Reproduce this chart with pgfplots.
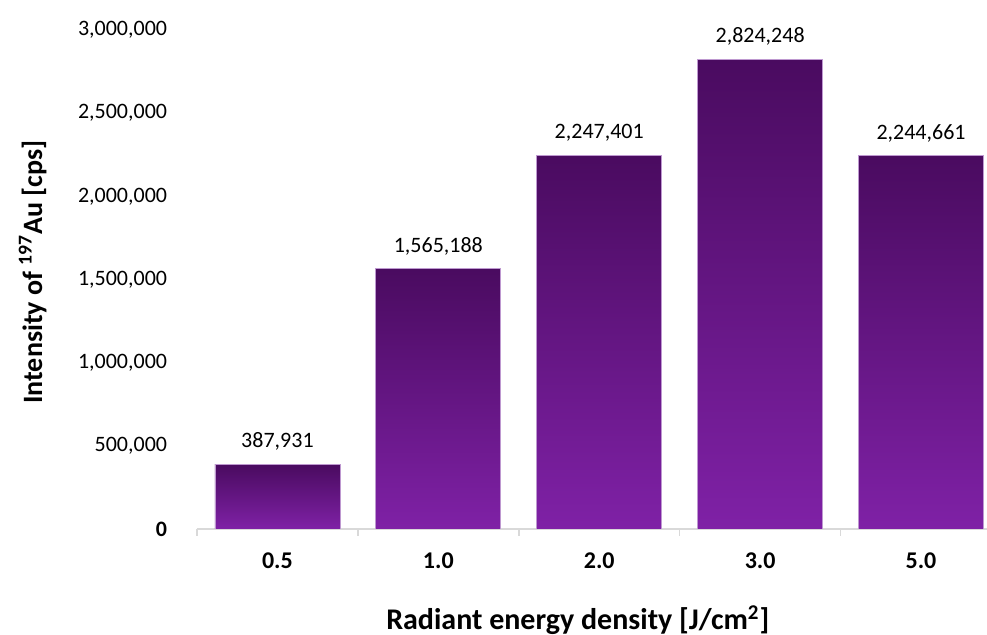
\documentclass[border=0pt]{standalone}
\usepackage{fontspec}
\setmainfont{Carlito}
\usepackage{pgfplots}
\pgfplotsset{compat=1.18}
\usepackage{pgfplotstable}

\definecolor{bartop}{HTML}{4A0B60}
\definecolor{barbottom}{HTML}{7F21A6}
\definecolor{baredge}{HTML}{BE98D0}
\definecolor{axisgray}{HTML}{D9D9D9}

% Intensity of 197Au for each radiant energy density
\pgfplotstableread{
x y label
0 387931 387,931
1 1565188 1,565,188
2 2247401 2,247,401
3 2824248 2,824,248
4 2244661 2,244,661
}\datatable

% each bar is its own path, so the gradient runs over that bar only
\pgfplotsset{
  purplebar/.style={shade, top color=bartop, bottom color=barbottom,
    draw=baredge, line width=0.4pt, bar shift=0pt},
}

\begin{document}
\begin{tikzpicture}
\begin{axis}[
  at={(98.5pt,53pt)}, anchor=south west,
  scale only axis, width=395pt, height=249.5pt,
  xmin=-0.5, xmax=4.41, ymin=0, ymax=3000000,
  axis x line*=bottom, axis y line*=left,
  x axis line style={-, draw=axisgray, line width=1pt},
  y axis line style={draw=none},
  xtick={0,1,2,3,4}, xticklabels={0.5,1.0,2.0,3.0,5.0},
  major x tick style={draw=none},
  minor xtick={-0.5,0.5,1.5,2.5,3.5},
  minor x tick style={draw=axisgray, line width=0.8pt},
  minor tick length=3.5pt,
  tick align=outside,
  scaled y ticks=false,
  ytick={0,500000,1000000,1500000,2000000,2500000,3000000},
  yticklabels={{\textbf{0}},{500,000},{1,000,000},{1,500,000},{2,000,000},{2,500,000},{3,000,000}},
  ytick style={draw=none},
  yticklabel style={anchor=east, inner sep=0pt, xshift=-10.5pt, font=\fontsize{11}{13}\selectfont},
  xticklabel style={anchor=base, inner sep=0pt, yshift=-15.5pt, font=\bfseries\fontsize{12}{14}\selectfont},
  xlabel={Radiant energy density [J/cm\textsuperscript{2}]},
  xlabel style={at={(axis description cs:0.482,0)}, anchor=base, yshift=-50.5pt, font=\bfseries\fontsize{15}{17}\selectfont},
  ylabel={Intensity of \textsuperscript{197}Au [cps]},
  ylabel style={at={(axis description cs:-0.196,0.515)}, anchor=base, font=\bfseries\fontsize{14}{16}\selectfont},
  ybar, bar width=62.5pt,
  nodes near coords, point meta=explicit symbolic,
  every node near coord/.append style={anchor=base, yshift=8.3pt, inner sep=0pt, font=\fontsize{11}{13}\selectfont, text=black},
]
\addplot[purplebar] table[x=x, y=y, meta=label, skip coords between index={1}{5}] {\datatable};
\addplot[purplebar] table[x=x, y=y, meta=label, skip coords between index={0}{1}, skip coords between index={2}{5}] {\datatable};
\addplot[purplebar] table[x=x, y=y, meta=label, skip coords between index={0}{2}, skip coords between index={3}{5}] {\datatable};
\addplot[purplebar] table[x=x, y=y, meta=label, skip coords between index={0}{3}, skip coords between index={4}{5}] {\datatable};
\addplot[purplebar] table[x=x, y=y, meta=label, skip coords between index={0}{4}] {\datatable};
\end{axis}
\pgfresetboundingbox
\path (0,0) rectangle (493.5pt,317.5pt);
\end{tikzpicture}
\end{document}
